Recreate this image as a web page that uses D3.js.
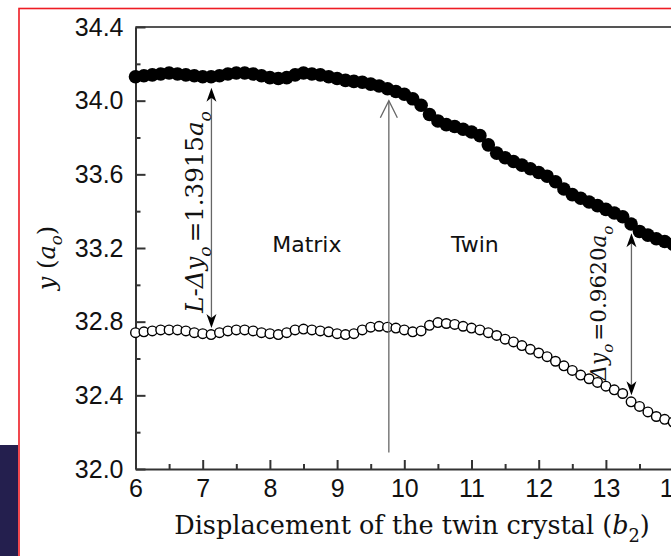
<!DOCTYPE html>
<html>
<head>
<meta charset="utf-8">
<script src="https://d3js.org/d3.v7.min.js"></script>
<style>
  body { margin: 0; background: #fff; }
  svg { display: block; }
</style>
</head>
<body>
<svg id="chart" width="671" height="556"></svg>
<script>
// displacement of the twin crystal (b2)
const xs = [6, 6.125, 6.25, 6.375, 6.5, 6.625, 6.75, 6.875, 7, 7.125, 7.25, 7.375, 7.5, 7.625, 7.75, 7.875,
  8, 8.125, 8.25, 8.375, 8.5, 8.625, 8.75, 8.875, 9, 9.125, 9.25, 9.375, 9.5, 9.625, 9.75, 9.875,
  10, 10.125, 10.25, 10.375, 10.5, 10.625, 10.75, 10.875, 11, 11.125, 11.25, 11.375, 11.5, 11.625, 11.75, 11.875,
  12, 12.125, 12.25, 12.375, 12.5, 12.625, 12.75, 12.875, 13, 13.125, 13.25, 13.375, 13.5, 13.625, 13.75, 13.875, 14];

// upper surface (filled circles)
const upperY = [34.13, 34.135, 34.14, 34.145, 34.15, 34.145, 34.14, 34.135, 34.13, 34.13, 34.135, 34.145, 34.15, 34.15, 34.145, 34.135,
  34.125, 34.12, 34.125, 34.14, 34.15, 34.145, 34.14, 34.13, 34.12, 34.11, 34.105, 34.1, 34.09, 34.08, 34.065, 34.05,
  34.035, 34.01, 33.975, 33.925, 33.89, 33.87, 33.86, 33.845, 33.83, 33.81, 33.76, 33.715, 33.69, 33.67, 33.65, 33.63,
  33.61, 33.59, 33.56, 33.52, 33.49, 33.47, 33.45, 33.43, 33.41, 33.39, 33.37, 33.33, 33.29, 33.27, 33.25, 33.235, 33.22];

// lower surface (open circles)
const lowerY = [32.74, 32.745, 32.75, 32.755, 32.755, 32.755, 32.75, 32.74, 32.735, 32.73, 32.74, 32.75, 32.755, 32.755, 32.75, 32.74,
  32.735, 32.73, 32.74, 32.755, 32.76, 32.755, 32.75, 32.745, 32.735, 32.73, 32.735, 32.755, 32.77, 32.775, 32.77, 32.765,
  32.755, 32.745, 32.75, 32.78, 32.795, 32.79, 32.785, 32.775, 32.765, 32.755, 32.74, 32.725, 32.705, 32.69, 32.67, 32.65,
  32.63, 32.61, 32.585, 32.56, 32.535, 32.51, 32.49, 32.47, 32.45, 32.43, 32.41, 32.365, 32.34, 32.31, 32.285, 32.27, 32.255];

const xTicks = [6, 7, 8, 9, 10, 11, 12, 13, 14];
const xMinor = [6.5, 7.5, 8.5, 9.5, 10.5, 11.5, 12.5, 13.5];
const yTicks = [32.0, 32.4, 32.8, 33.2, 33.6, 34.0, 34.4];
const yMinor = [32.2, 32.6, 33.0, 33.4, 33.8, 34.2];

// double arrows: x, lower tip, upper tip
const gapArrowX = [7.13, 13.38];
const gapArrowLow = [32.765, 32.40];
const gapArrowHigh = [34.07, 33.28];

// twin boundary line
const boundaryX = 9.77;
const boundaryLow = 32.09;
const boundaryHigh = 34.0;

const regionNames = ["Matrix", "Twin"];
const regionX = [8.55, 11.05];
const regionY = 33.18;

const width = 671, height = 556;
const svg = d3.select("#chart");

// slide background bits
svg.append("rect").attr("x", 0).attr("y", 445).attr("width", 18).attr("height", 111).attr("fill", "#241f4e");
svg.append("rect").attr("x", 19).attr("y", 8.5).attr("width", 700).attr("height", 600)
  .attr("fill", "#fff").attr("stroke", "#ee1c24").attr("stroke-width", 1.6);

const x = d3.scaleLinear().domain([6, 14]).range([135.5, 673.1]);
const y = d3.scaleLinear().domain([32.0, 34.4]).range([469, 27]);

const axisColor = "#333";
const sans = "'Liberation Sans', Arial, sans-serif";
const serif = "'DejaVu Serif', serif";

// frame top line
svg.append("line")
  .attr("x1", x(6)).attr("x2", x(14))
  .attr("y1", y(34.4)).attr("y2", y(34.4))
  .attr("stroke", "#555").attr("stroke-width", 2);

// x axis
svg.append("g").attr("transform", `translate(0,${y(32)})`)
  .call(d3.axisBottom(x).tickValues(xTicks).tickSize(-9).tickSizeOuter(0).tickPadding(10).tickFormat(d3.format("d")));
svg.append("g").attr("transform", `translate(0,${y(32)})`)
  .call(d3.axisBottom(x).tickValues(xMinor).tickSize(-5).tickSizeOuter(0).tickFormat(""))
  .call(g => g.select(".domain").remove());

// y axis
svg.append("g").attr("transform", `translate(${x(6)},0)`)
  .call(d3.axisLeft(y).tickValues(yTicks).tickSize(-10).tickSizeOuter(0).tickPadding(12).tickFormat(d3.format(".1f")));
svg.append("g").attr("transform", `translate(${x(6)},0)`)
  .call(d3.axisLeft(y).tickValues(yMinor).tickSize(-5).tickSizeOuter(0).tickFormat(""))
  .call(g => g.select(".domain").remove());

svg.selectAll(".domain").attr("stroke", axisColor).attr("stroke-width", 2);
svg.selectAll(".tick line").attr("stroke", axisColor).attr("stroke-width", 2);
svg.selectAll(".tick text").attr("fill", "#111").style("font-family", sans).style("font-size", "25px");

// series
svg.append("g").selectAll("circle")
  .data(xs.map((d, i) => [d, upperY[i]]))
  .enter().append("circle")
  .attr("cx", d => x(d[0])).attr("cy", d => y(d[1]))
  .attr("r", 6.8).attr("fill", "#000");

svg.append("g").selectAll("circle")
  .data(xs.map((d, i) => [d, lowerY[i]]))
  .enter().append("circle")
  .attr("cx", d => x(d[0])).attr("cy", d => y(d[1]))
  .attr("r", 4.8).attr("fill", "#fff").attr("stroke", "#000").attr("stroke-width", 1.4);

// arrows
const lineColor = "#666";
function headPath(px, py, dir) {
  // filled notched arrowhead, tip at (px,py); dir = -1 points up, 1 points down
  const L = 14, W = 5, N = 10;
  return `M${px},${py} L${px - W},${py - dir * L} L${px},${py - dir * N} L${px + W},${py - dir * L} Z`;
}

gapArrowX.forEach((gx, i) => {
  const px = x(gx), top = y(gapArrowHigh[i]), bot = y(gapArrowLow[i]);
  svg.append("line").attr("x1", px).attr("x2", px).attr("y1", top + 8).attr("y2", bot - 8)
    .attr("stroke", lineColor).attr("stroke-width", 1.3);
  svg.append("path").attr("d", headPath(px, top, -1)).attr("fill", "#000");
  svg.append("path").attr("d", headPath(px, bot, 1)).attr("fill", "#000");
});

const bx = x(boundaryX);
svg.append("line").attr("x1", bx).attr("x2", bx).attr("y1", y(boundaryHigh)).attr("y2", y(boundaryLow))
  .attr("stroke", lineColor).attr("stroke-width", 1.3);
svg.append("path")
  .attr("d", `M${bx - 8.5},${y(boundaryHigh) + 17} L${bx},${y(boundaryHigh)} L${bx + 8.5},${y(boundaryHigh) + 17}`)
  .attr("fill", "none").attr("stroke", lineColor).attr("stroke-width", 1.3);

// region labels
svg.append("g").selectAll("text")
  .data(regionNames)
  .enter().append("text")
  .attr("x", (d, i) => x(regionX[i])).attr("y", y(regionY))
  .attr("text-anchor", "middle")
  .style("font-family", "'DejaVu Sans', sans-serif").style("font-size", "22px").attr("fill", "#111")
  .text(d => d);

// rotated labels with subscripts
function richText(parent, parts, size) {
  const t = parent.append("text").attr("text-anchor", "middle")
    .style("font-family", serif).style("font-size", size + "px").attr("fill", "#111");
  let shifted = false;
  parts.forEach(p => {
    const s = t.append("tspan").text(p.t);
    if (p.i) s.style("font-style", "italic");
    if (p.sub) { s.attr("dy", size * 0.3).style("font-size", (size * 0.7) + "px"); shifted = true; }
    else if (shifted) { s.attr("dy", -size * 0.3); shifted = false; }
    if (p.dx) s.attr("dx", p.dx);
  });
  return t;
}

const leftLabel = svg.append("g").attr("transform", `translate(${x(gapArrowX[0]) - 8},${(y(gapArrowHigh[0]) + y(gapArrowLow[0])) / 2 + 4}) rotate(-90)`);
richText(leftLabel, [
  { t: "L-Δy", i: true }, { t: "o", i: true, sub: true }, { t: "=1.3915", dx: 4 }, { t: "a", i: true }, { t: "o", i: true, sub: true }
], 24.5);

const rightLabel = svg.append("g").attr("transform", `translate(${x(gapArrowX[1]) - 25},303) rotate(-90)`);
richText(rightLabel, [
  { t: "Δy", i: true }, { t: "o", i: true, sub: true }, { t: "=0.9620", dx: 3 }, { t: "a", i: true }, { t: "o", i: true, sub: true }
], 21.5);

const yTitle = svg.append("g").attr("transform", `translate(55,258) rotate(-90)`);
richText(yTitle, [
  { t: "y", i: true }, { t: " (" }, { t: "a", i: true }, { t: "o", i: true, sub: true }, { t: ")" }
], 24);

const xTitle = svg.append("g").attr("transform", `translate(412,534)`);
richText(xTitle, [
  { t: "Displacement of the twin crystal (" }, { t: "b", i: true }, { t: "2", sub: true }, { t: ")" }
], 25.5);
</script>
</body>
</html>
